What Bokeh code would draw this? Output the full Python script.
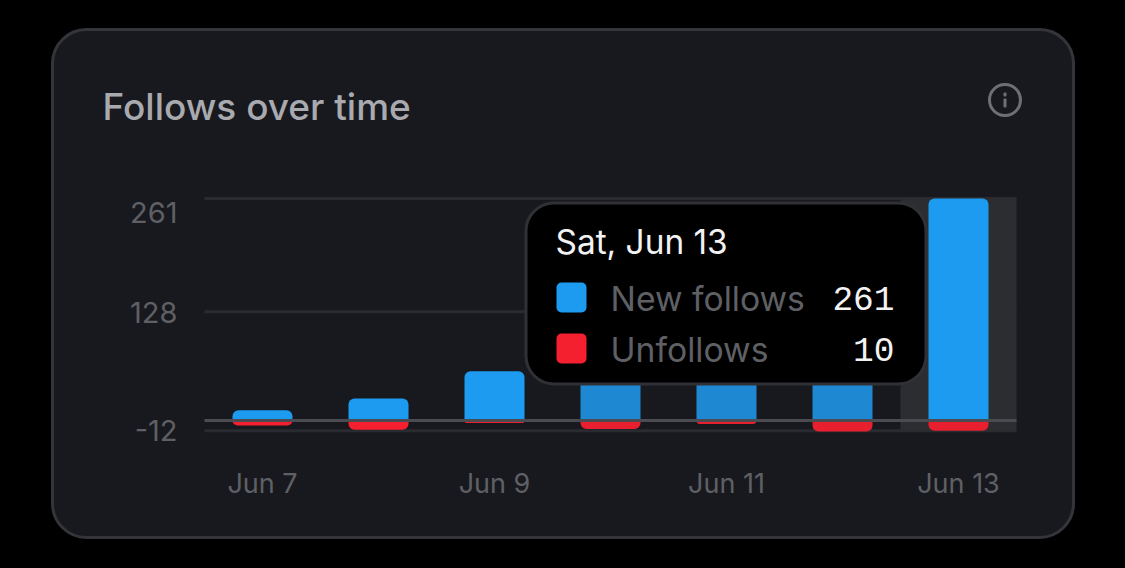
from bokeh.plotting import figure
from bokeh.embed import file_html
from bokeh.resources import INLINE
from bokeh.models import (BoxAnnotation, Label, Range1d, FixedTicker, ColumnDataSource, GlobalInlineStyleSheet)

# ---- data
days = ["Jun 7", "Jun 8", "Jun 9", "Jun 10", "Jun 11", "Jun 12", "Jun 13"]
new_follows = [12, 26, 58, 92, 78, 110, 261]
unfollows = [6, 11, 3, 10, 4, 13, 12]
shown_unfollows = 10
grid_values = [261, 128, -12]
y_tick_labels = ["261", "128", "-12"]
x_tick_labels = ["Jun 7", "Jun 9", "Jun 11", "Jun 13"]
title_text = "Follows over time"
tooltip_title = "Sat, Jun 13"
series_names = ["New follows", "Unfollows"]

# ---- style
W, H = 1125, 568
BG = "#000000"
CARD = "#18191e"
CARD_EDGE = "#34353a"
GRID = "#2a2b30"
ZERO = "#4b4c51"
BAND = "#2c2d31"
BLUE = "#1d9bf0"
BLUE_DIM = "#1e88d3"
RED = "#f4202f"
RED_DIM = "#e81f2e"
MUTED = "#5f6065"
ICON = "#6e6f74"
FONT = "Inter"

zero_py, py_per_unit = 420.0, 222.0 / 261.0
x0_px, px_per_day = 262.0, 116.0

p = figure(width=W, height=H, output_backend="svg", toolbar_location=None,
           x_range=Range1d((0 - x0_px) / px_per_day, (W - x0_px) / px_per_day),
           y_range=Range1d((zero_py - H) / py_per_unit, zero_py / py_per_unit),
           min_border=0, border_fill_color=BG, background_fill_color=BG, outline_line_color=None)
p.stylesheets = [GlobalInlineStyleSheet(css="html,body{background:#000000;overflow:hidden;}")]


def box(l, r, t, b, fill, radius=0, edge=None, edge_w=0, level="overlay"):
    a = BoxAnnotation(left=l, right=r, top=t, bottom=b,
                      left_units="canvas", right_units="canvas", top_units="canvas", bottom_units="canvas",
                      fill_color=fill, fill_alpha=1 if fill else 0, line_color=edge, line_alpha=1, line_width=edge_w,
                      border_radius=radius, level=level, editable=False)
    p.add_layout(a)
    return a


def text(px, py, s, size, color, font=FONT, align="left", level="overlay"):
    lab = Label(x=px, y=py, x_units="canvas", y_units="canvas", text=s,
                text_font=font, text_font_size=f"{size}px", text_color=color,
                text_align=align, text_baseline="middle", level=level)
    p.add_layout(lab)


# card
box(52, 1073, 29, 537, CARD, radius=34, edge=CARD_EDGE, edge_w=3, level="underlay")

# x / y axes, placed inside the frame
x_pos = list(range(len(days)))
left_day, right_day = -0.5, len(days) - 0.5
p.xaxis.fixed_location = grid_values[-1]
p.yaxis.fixed_location = left_day
p.xaxis.ticker = FixedTicker(ticks=[days.index(d) for d in x_tick_labels])
p.xaxis.major_label_overrides = {days.index(d): d for d in x_tick_labels}
p.xaxis.major_label_standoff = 30
p.yaxis.ticker = FixedTicker(ticks=[245, 126.5, -11.5])
p.yaxis.major_label_overrides = {245: y_tick_labels[0], 126.5: y_tick_labels[1], -11.5: y_tick_labels[2]}
p.yaxis.major_label_standoff = 21
for ax, size in ((p.xaxis[0], "27px"), (p.yaxis[0], "29px")):
    ax.axis_line_color = None
    ax.major_tick_line_color = None
    ax.minor_tick_line_color = None
    ax.major_label_text_color = MUTED
    ax.major_label_text_font = FONT
    ax.major_label_text_font_size = size
p.yaxis.major_label_orientation = "horizontal"
p.grid.visible = False

# grid rules
p.segment(x0=[left_day] * 3, x1=[right_day] * 3, y0=grid_values, y1=grid_values, line_color=GRID, line_width=3)

# hover band over the selected day
p.vbar(x=[x_pos[-1]], width=1, bottom=[grid_values[-1]], top=[grid_values[0]],
       fill_color=BAND, line_color=None)

# bars
blue_cols = [BLUE, BLUE, BLUE, BLUE_DIM, BLUE_DIM, BLUE_DIM, BLUE]
red_cols = [RED, RED, RED_DIM, RED_DIM, RED_DIM, RED_DIM, RED_DIM]
src = ColumnDataSource(dict(x=x_pos, new=new_follows, un=[-u for u in unfollows],
                            zero=[0] * len(days), bc=blue_cols, rc=red_cols))
p.vbar(x="x", width=60 / 116, bottom="zero", top="new", source=src, fill_color="bc", line_color=None,
       border_radius=(6, 6, 0, 0))
p.vbar(x="x", width=60 / 116, bottom="un", top="zero", source=src, fill_color="rc", line_color=None,
       border_radius=(0, 0, 6, 6))

# zero line
p.segment(x0=[left_day], x1=[right_day], y0=[0], y1=[0], line_color=ZERO, line_width=3)

# title and info icon
text(102, 106, title_text, 37, "#a9aaaf", font="'Inter Medium', Inter")
box(989, 1020, 84, 115, None, radius=16, edge=ICON, edge_w=3)
box(1003, 1006, 92, 96, ICON, radius=1)
box(1003, 1006, 98, 107, ICON, radius=1)

# tooltip
box(525.5, 925.5, 202.5, 383.5, BG, radius=28, edge="#303136", edge_w=3)
text(555, 241, tooltip_title, 33.4, "#f2f2f3")
box(556, 586, 282, 312, BLUE, radius=5)
box(556, 586, 333, 363, RED, radius=5)
text(610, 298, series_names[0], 33.7, MUTED)
text(610, 349, series_names[1], 33.7, MUTED)
text(894, 298, str(new_follows[-1]), 34.5, "#f2f2f3", font="Liberation Mono", align="right")
text(894, 349, str(shown_unfollows), 34.5, "#f2f2f3", font="Liberation Mono", align="right")

open("out.html", "w").write(file_html(p, INLINE))
